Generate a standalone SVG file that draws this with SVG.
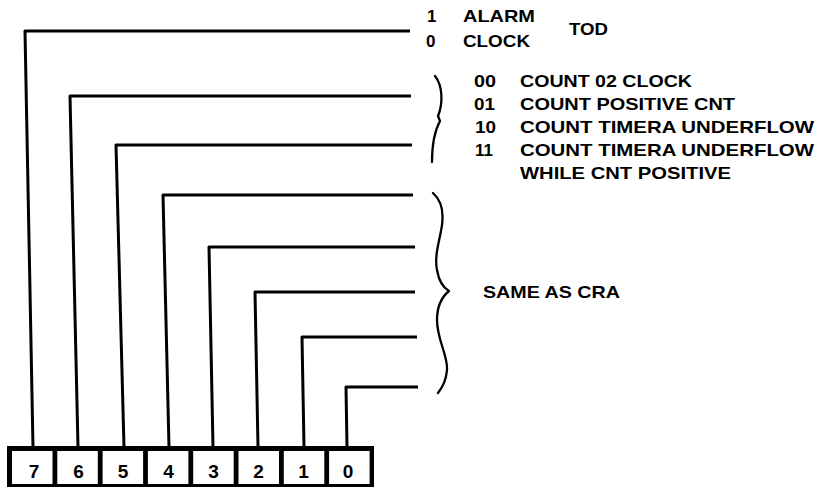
<svg xmlns="http://www.w3.org/2000/svg" width="828" height="490" viewBox="0 0 828 490">
<style>
.w{fill:none;stroke:#000;stroke-width:3;stroke-linejoin:round;stroke-linecap:butt}
.br{fill:none;stroke:#000;stroke-width:2.3;stroke-linecap:round;stroke-linejoin:round}
.t{font-family:"Liberation Sans",Arial,sans-serif;font-weight:bold;font-size:17px;fill:#000}
.d{font-family:"Liberation Sans",Arial,sans-serif;font-weight:bold;font-size:19px;fill:#000;text-anchor:middle}
.cell{fill:#fff;stroke:none}
</style>
<rect width="828" height="490" fill="#fff"/>
<g id="connectors">
<polyline class="w" points="33,447 25,31 410,31"/>
<polyline class="w" points="78,447 70,96 411,96"/>
<polyline class="w" points="124,447 116,145 412,145"/>
<polyline class="w" points="169,447 163,195 413,195"/>
<polyline class="w" points="213,447 209,247 415,247"/>
<polyline class="w" points="258,447 255,292 415,292"/>
<polyline class="w" points="304,447 302,337 417,337"/>
<polyline class="w" points="347,447 346,387 418,387"/>
</g>
<g id="register">
<rect x="7" y="446" width="367" height="41" fill="#000"/>
<rect class="cell" x="12" y="451" width="40.5" height="33"/>
<rect class="cell" x="57.3" y="451" width="40.5" height="33"/>
<rect class="cell" x="102.6" y="451" width="40.5" height="33"/>
<rect class="cell" x="147.9" y="451" width="40.5" height="33"/>
<rect class="cell" x="193.2" y="451" width="40.5" height="33"/>
<rect class="cell" x="238.5" y="451" width="40.5" height="33"/>
<rect class="cell" x="283.8" y="451" width="40.5" height="33"/>
<rect class="cell" x="329.1" y="451" width="40.5" height="33"/>
<text class="d" x="34" y="478">7</text>
<text class="d" x="78.5" y="478">6</text>
<text class="d" x="123" y="478">5</text>
<text class="d" x="168.5" y="478">4</text>
<text class="d" x="213.5" y="478">3</text>
<text class="d" x="258.5" y="478">2</text>
<text class="d" x="303.5" y="478">1</text>
<text class="d" x="348" y="478">0</text>
</g>
<g id="tod">
<text class="t" x="427" y="22">1</text>
<text class="t" x="463" y="22" textLength="72" lengthAdjust="spacingAndGlyphs">ALARM</text>
<text class="t" x="426" y="47">0</text>
<text class="t" x="463" y="47" textLength="67" lengthAdjust="spacingAndGlyphs">CLOCK</text>
<text class="t" x="569" y="35" textLength="39" lengthAdjust="spacingAndGlyphs">TOD</text>
</g>
<g id="inmode">
<path class="br" d="M435,76 C443,86 443,104 438,116 L440,121 C434,132 432,148 432,162"/>
<text class="t" x="474" y="87" textLength="22" lengthAdjust="spacingAndGlyphs">00</text>
<text class="t" x="520" y="87" textLength="172" lengthAdjust="spacingAndGlyphs">COUNT 02 CLOCK</text>
<text class="t" x="474" y="110" textLength="21" lengthAdjust="spacingAndGlyphs">01</text>
<text class="t" x="520" y="110" textLength="215" lengthAdjust="spacingAndGlyphs">COUNT POSITIVE CNT</text>
<text class="t" x="475" y="133" textLength="21" lengthAdjust="spacingAndGlyphs">10</text>
<text class="t" x="520" y="133" textLength="294" lengthAdjust="spacingAndGlyphs">COUNT TIMERA UNDERFLOW</text>
<text class="t" x="475" y="156">11</text>
<text class="t" x="520" y="156" textLength="294" lengthAdjust="spacingAndGlyphs">COUNT TIMERA UNDERFLOW</text>
<text class="t" x="520" y="179" textLength="211" lengthAdjust="spacingAndGlyphs">WHILE CNT POSITIVE</text>
</g>
<g id="same">
<path class="br" d="M433,193 C441,200 444,210 442,225 C440,240 434,255 437,270 C439,282 444,288 449,291 C443,296 437,305 437,320 C437,340 448,355 447,370 C446,382 442,388 438,393"/>
<text class="t" x="483" y="298" textLength="137" lengthAdjust="spacingAndGlyphs">SAME AS CRA</text>
</g>
</svg>
